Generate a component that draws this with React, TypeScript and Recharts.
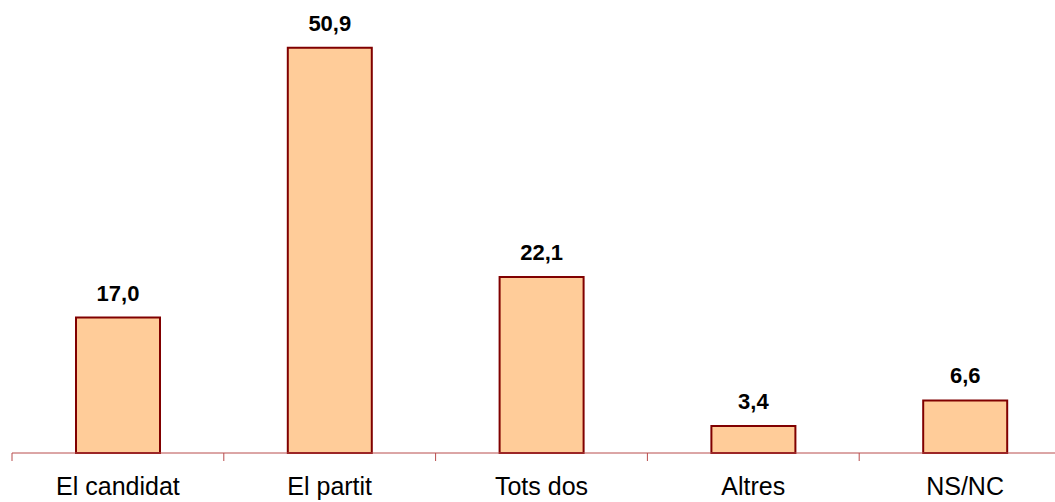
import React from "react";
import { BarChart, Bar, XAxis, YAxis, LabelList } from "recharts";

const categories = ["El candidat", "El partit", "Tots dos", "Altres", "NS/NC"];
const values = [17.0, 50.9, 22.1, 3.4, 6.6];

const data = categories.map((name, i) => ({ name, value: values[i] }));

const PLOT_LEFT = 12;
const PLOT_W = 1059;
const HALF_BAND = PLOT_W / categories.length / 2;

const fmt = (v: number) => v.toFixed(1).replace(".", ",");

function CategoryTick(props: any) {
  const { x, y, payload, index } = props;
  return (
    <g>
      <line x1={x - HALF_BAND} x2={x - HALF_BAND} y1={y} y2={y + 8} stroke="#b84c4c" strokeWidth={1} />
      {index === categories.length - 1 && (
        <line x1={x + HALF_BAND} x2={x + HALF_BAND} y1={y} y2={y + 8} stroke="#b84c4c" strokeWidth={1} />
      )}
      <text x={x} y={y + 42} textAnchor="middle" fill="#000" fontSize={25} fontFamily="'Liberation Sans', Arial, sans-serif">
        {payload.value}
      </text>
    </g>
  );
}

export default function App() {
  return (
    <div style={{ position: "absolute", left: 0, top: 0, width: 1055, height: 502, overflow: "hidden", background: "#fff" }}>
      <BarChart
        width={PLOT_LEFT + PLOT_W}
        height={502}
        data={data}
        margin={{ top: 15, right: 0, bottom: 0, left: PLOT_LEFT }}
        barSize={84}
      >
        <XAxis
          dataKey="name"
          height={49}
          axisLine={{ stroke: "#b84c4c", strokeWidth: 1 }}
          tickLine={false}
          tickSize={0}
          tickMargin={0}
          interval={0}
          tick={<CategoryTick />}
        />
        <YAxis hide domain={[0, 55]} />
        <Bar dataKey="value" fill="#ffcc99" stroke="#800000" strokeWidth={2} isAnimationActive={false}>
          <LabelList
            dataKey="value"
            position="top"
            offset={17}
            formatter={(v: any) => fmt(Number(v))}
            fill="#000"
            fontSize={22}
            fontWeight="bold"
            fontFamily="'Liberation Sans', Arial, sans-serif"
          />
        </Bar>
      </BarChart>
    </div>
  );
}
